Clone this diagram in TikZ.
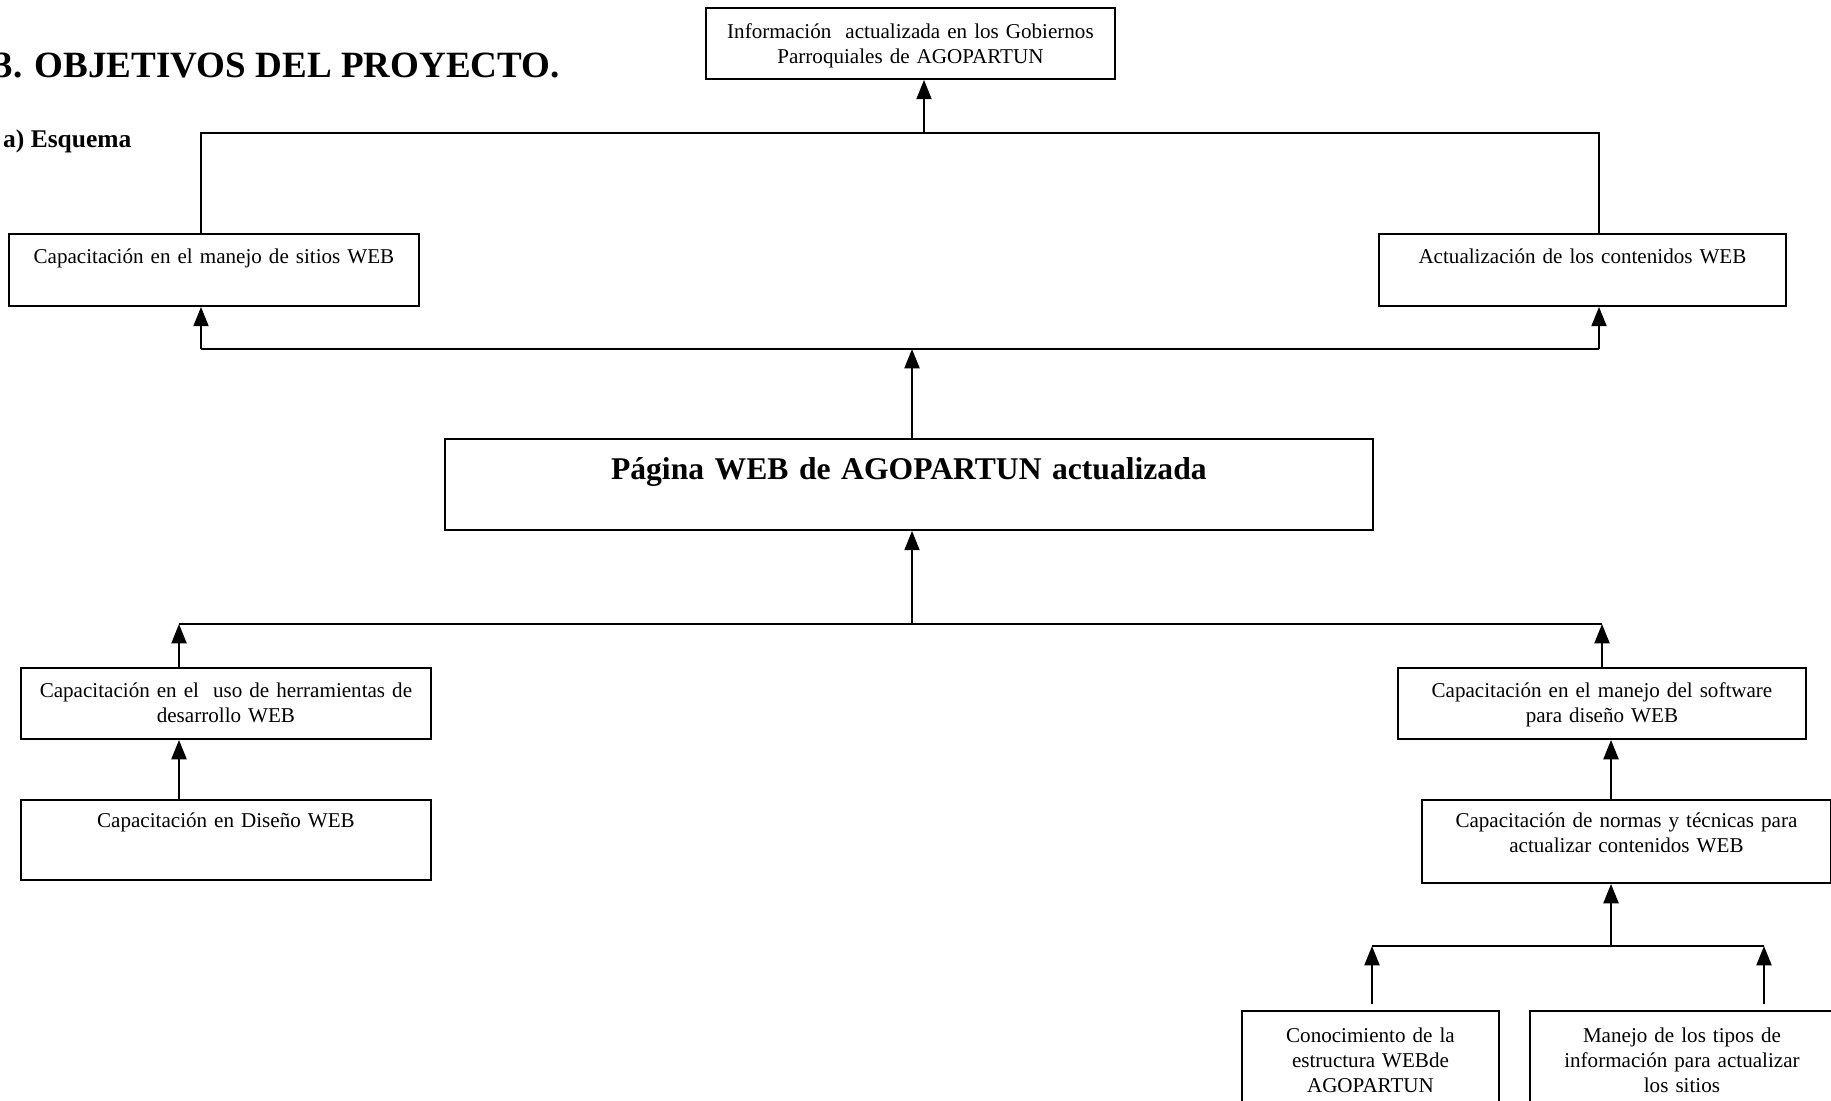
\documentclass[tikz,border=0pt]{standalone}
\usepackage{fontspec}
\setmainfont{Liberation Serif}
\usetikzlibrary{arrows.meta,positioning}

\tikzset{
  caja/.style={draw, line width=1.1pt, inner sep=0pt, anchor=north west,
    align=center, text height=0.6cm, font=\fontsize{12}{14.2}\selectfont},
  linea/.style={line width=1.2pt},
  flecha/.style={line width=1.3pt, -{Triangle[width=8.5pt,length=11pt]}}
}

\begin{document}
\begin{tikzpicture}[x=0.02cm, y=-0.02cm]
  \useasboundingbox (0,0) rectangle (1831,1101);

  % titulos
  \node[anchor=base east, font=\fontsize{21.1}{25}\selectfont\bfseries] (titulo) at (566,78) {3. OBJETIVOS DEL PROYECTO.};
  \node[anchor=base west, font=\fontsize{14.5}{17}\selectfont\bfseries] (esquema) at (-3,148) {a) Esquema};

  % cajas
  \node[caja, text width=8.18cm, text height=0.62cm, text depth=0.8cm] (info) at (705,7)
    {Información\ \ actualizada en los Gobiernos\\ Parroquiales de AGOPARTUN};
  \node[caja, text width=8.2cm, text depth=0.84cm] (sitios) at (8,233)
    {Capacitación en el manejo de sitios WEB};
  \node[caja, text width=8.14cm, text depth=0.84cm] (contenidos) at (1378,233)
    {Actualización de los contenidos WEB};
  \node[caja, text width=18.56cm, text height=0.82cm, text depth=1cm,
        font=\fontsize{18}{21}\selectfont\bfseries] (pagina) at (444,438)
    {Página WEB de AGOPARTUN actualizada};
  \node[caja, text width=8.2cm, text depth=0.82cm] (herram) at (20,667)
    {Capacitación en el\ \ uso de herramientas de\\ desarrollo WEB};
  \node[caja, text width=8.16cm, text depth=0.82cm] (software) at (1397,667)
    {Capacitación en el manejo del software\\ para diseño WEB};
  \node[caja, text width=8.2cm, text height=0.56cm, text depth=1.04cm] (diseno) at (20,799)
    {Capacitación en Diseño WEB};
  \node[caja, text width=8.18cm, text height=0.56cm, text depth=1.1cm] (normas) at (1421,799)
    {Capacitación de normas y técnicas para\\ actualizar contenidos WEB};
  \node[caja, text width=5.14cm, text height=0.64cm, text depth=1.6cm] (conoc) at (1241,1010)
    {Conocimiento de la\\ estructura WEBde\\ AGOPARTUN};
  \node[caja, text width=6.08cm, text height=0.64cm, text depth=1.6cm] (manejo) at (1529,1010)
    {Manejo de los tipos de\\ información para actualizar\\ los sitios};

  % puntos de las lineas
  \coordinate (b1l) at (201,133);
  \coordinate (b1r) at (1599,133);
  \coordinate (b1m) at (924,133);
  \coordinate (b2l) at (201,349);
  \coordinate (b2r) at (1599,349);
  \coordinate (b2m) at (912,349);
  \coordinate (b3l) at (179,624);
  \coordinate (b3r) at (1602,624);
  \coordinate (b3m) at (912,624);
  \coordinate (b4l) at (1372,946);
  \coordinate (b4r) at (1764,946);
  \coordinate (b4m) at (1611,946);

  % conectores
  \draw[linea] (sitios.north -| b1l) -- (b1l) -- (b1r) -- (contenidos.north -| b1r);
  \draw[flecha] (b1m) -- (info.south -| b1m);

  \draw[linea] (b2l) -- (b2r);
  \draw[flecha] (pagina.north -| b2m) -- (b2m);
  \draw[flecha] (b2l) -- (sitios.south -| b2l);
  \draw[flecha] (b2r) -- (contenidos.south -| b2r);

  \draw[linea] (b3l) -- (b3r);
  \draw[flecha] (b3m) -- (pagina.south -| b3m);
  \draw[flecha] (herram.north -| b3l) -- (b3l);
  \draw[flecha] (software.north -| b3r) -- (b3r);
  \draw[flecha] (diseno.north -| b3l) -- (herram.south -| b3l);

  \draw[flecha] (normas.north -| b4m) -- (software.south -| b4m);
  \draw[linea] (b4l) -- (b4r);
  \draw[flecha] (b4m) -- (normas.south -| b4m);
  \draw[flecha, shorten <=3.4pt] (conoc.north -| b4l) -- (b4l);
  \draw[flecha, shorten <=3.4pt] (manejo.north -| b4r) -- (b4r);
\end{tikzpicture}
\end{document}
